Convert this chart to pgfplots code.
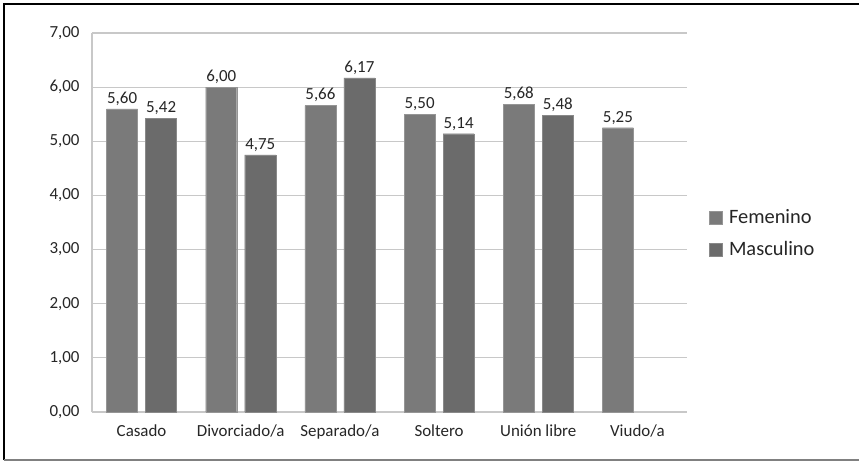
\documentclass[border=0pt]{standalone}
\usepackage{pgfplots}
\pgfplotsset{compat=1.18}
\usepackage{fontspec}
\setmainfont{Carlito}

\definecolor{fem}{HTML}{7A7A7A}
\definecolor{mas}{HTML}{6B6B6B}
\definecolor{gridc}{HTML}{C8C8C8}

\begin{document}
\begin{tikzpicture}
\useasboundingbox (-92bp,-50bp) rectangle (767bp,412bp);
\fill[white] (-92bp,-50bp) rectangle (767bp,412bp);
\begin{axis}[
  width=595bp, height=379bp, scale only axis,
  xmin=-0.5, xmax=5.5, ymin=0, ymax=7,
  xtick={0,...,5},
  xticklabels={Casado,Divorciado/a,Separado/a,Soltero,Unión libre,Viudo/a},
  ytick={0,...,7},
  ymajorgrids, grid style={gridc, line width=1.2bp},
  axis x line*=bottom, axis y line*=left,
  axis line style={gridc, line width=1.2bp},
  major tick length=0pt,
  /pgf/number format/assume math mode=true,
  yticklabel style={font=\fontsize{17}{20}\selectfont, xshift=-9bp, text=black!85,
    /pgf/number format/fixed, /pgf/number format/fixed zerofill,
    /pgf/number format/precision=2, /pgf/number format/use comma},
  xticklabel style={font=\fontsize{17}{20}\selectfont, yshift=-9bp, text=black!85},
  ybar=8bp, bar width=31bp,
  nodes near coords,
  nodes near coords style={font=\fontsize{17}{20}\selectfont, text=black!85,
    /pgf/number format/fixed, /pgf/number format/fixed zerofill,
    /pgf/number format/precision=2, /pgf/number format/use comma},
  clip=false,
  legend style={at={(1.031,0.471)}, anchor=west, draw=none, fill=none,
    font=\fontsize{20.5}{24}\selectfont, row sep=12bp, text=black!85},
  legend cell align=left,
  legend image code/.code={\fill[#1] (-5bp,-6.5bp) rectangle (8bp,6.5bp); \path (13bp,0bp);},
]
\addplot[fill=fem, draw=fem!80!white] coordinates {(0,5.60) (1,6.00) (2,5.66) (3,5.50) (4,5.68) (5,5.25)};
\addplot[fill=mas, draw=mas!80!white] coordinates {(0,5.42) (1,4.75) (2,6.17) (3,5.14) (4,5.48)};
\legend{Femenino,Masculino}
\end{axis}
\draw[black, line width=2bp] (-88bp,-48bp) -- (-88bp,408bp) -- (767bp,408bp);
\draw[gray, line width=1.5bp] (-88bp,-48bp) -- (767bp,-48bp);
\end{tikzpicture}
\end{document}
